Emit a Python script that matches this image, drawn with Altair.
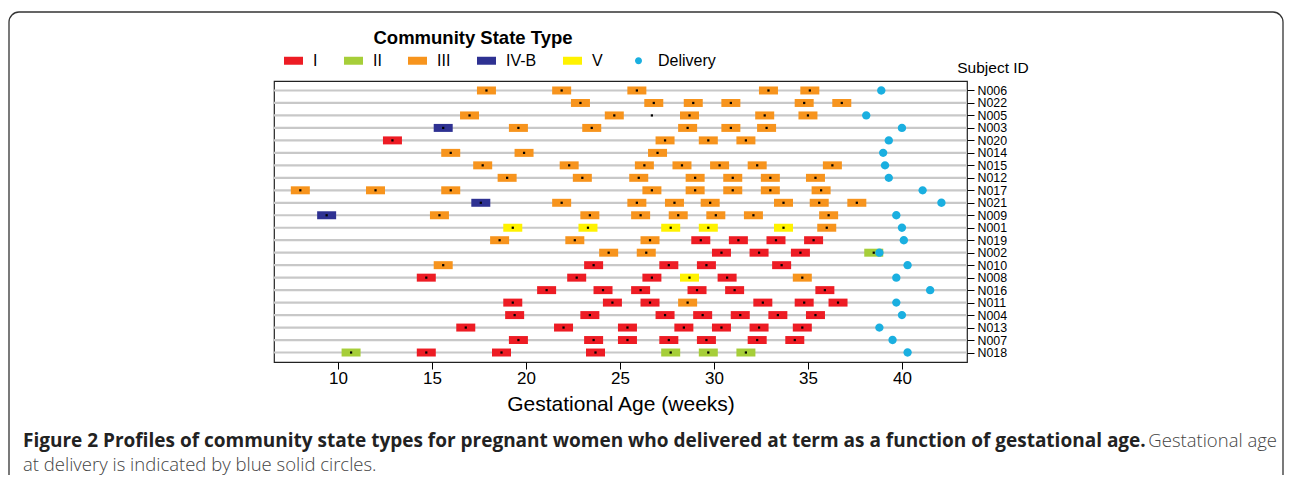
import altair as alt
import pandas as pd

# ---------------- data ----------------
subjects = ["N006", "N022", "N005", "N003", "N020", "N014", "N015", "N012",
            "N017", "N021", "N009", "N001", "N019", "N002", "N010", "N008",
            "N016", "N011", "N004", "N013", "N007", "N018"]

n006_weeks = [17.9, 21.9, 25.9, 32.9, 35.1]
n006_cst = ["III", "III", "III", "III", "III"]
n022_weeks = [22.9, 26.8, 28.9, 30.9, 34.8, 36.8]
n022_cst = ["III", "III", "III", "III", "III", "III"]
n005_weeks = [17.0, 24.7, 26.7, 28.7, 32.7, 35.0]
n005_cst = ["III", "III", None, "III", "III", "III"]
n003_weeks = [15.6, 19.6, 23.5, 28.6, 30.9, 32.8]
n003_cst = ["IV-B", "III", "III", "III", "III", "III"]
n020_weeks = [12.9, 27.4, 29.7, 31.7]
n020_cst = ["I", "III", "III", "III"]
n014_weeks = [16.0, 19.9, 27.0]
n014_cst = ["III", "III", "III"]
n015_weeks = [17.7, 22.3, 26.3, 28.3, 30.3, 32.3, 36.3]
n015_cst = ["III", "III", "III", "III", "III", "III", "III"]
n012_weeks = [19.0, 23.0, 26.0, 29.0, 31.0, 33.0, 35.4]
n012_cst = ["III", "III", "III", "III", "III", "III", "III"]
n017_weeks = [8.0, 12.0, 16.0, 26.7, 29.0, 31.0, 33.0, 35.7]
n017_cst = ["III", "III", "III", "III", "III", "III", "III", "III"]
n021_weeks = [17.6, 21.9, 25.9, 27.9, 29.8, 33.7, 35.6, 37.6]
n021_cst = ["IV-B", "III", "III", "III", "III", "III", "III", "III"]
n009_weeks = [9.4, 15.4, 23.4, 26.1, 28.1, 30.1, 32.1, 36.1]
n009_cst = ["IV-B", "III", "III", "III", "III", "III", "III", "III"]
n001_weeks = [19.3, 23.3, 27.7, 29.7, 33.7, 36.0]
n001_cst = ["V", "V", "V", "V", "V", "III"]
n019_weeks = [18.6, 22.6, 26.6, 29.3, 31.3, 33.3, 35.3]
n019_cst = ["III", "III", "III", "I", "I", "I", "I"]
n002_weeks = [24.4, 26.4, 30.4, 32.4, 34.6, 38.5]
n002_cst = ["III", "III", "I", "I", "I", "II"]
n010_weeks = [15.6, 23.6, 27.6, 29.6, 33.6]
n010_cst = ["III", "I", "I", "I", "I"]
n008_weeks = [14.7, 22.7, 26.7, 28.7, 30.7, 34.7]
n008_cst = ["I", "I", "I", "V", "I", "III"]
n016_weeks = [21.1, 24.1, 26.1, 29.1, 31.1, 35.9]
n016_cst = ["I", "I", "I", "I", "I", "I"]
n011_weeks = [19.3, 24.6, 26.6, 28.6, 32.6, 34.8, 36.6]
n011_cst = ["I", "I", "I", "III", "I", "I", "I"]
n004_weeks = [19.4, 23.4, 27.4, 29.4, 31.4, 33.4, 35.4]
n004_cst = ["I", "I", "I", "I", "I", "I", "I"]
n013_weeks = [16.8, 22.0, 25.4, 28.4, 30.4, 32.4, 34.7]
n013_cst = ["I", "I", "I", "I", "I", "I", "I"]
n007_weeks = [19.6, 23.6, 25.4, 27.6, 29.6, 32.3, 34.3]
n007_cst = ["I", "I", "I", "I", "I", "I", "I"]
n018_weeks = [10.7, 14.7, 18.7, 23.7, 27.7, 29.7, 31.7]
n018_cst = ["II", "I", "I", "I", "II", "II", "II"]

delivery_weeks = [38.9, None, 38.1, 40.0, 39.3, 39.0, 39.1, 39.3,
                  41.1, 42.1, 39.7, 40.0, 40.1, 38.8, 40.3, 39.7,
                  41.5, 39.7, 40.0, 38.8, 39.5, 40.3]

cst_types = ["I", "II", "III", "IV-B", "V", "Delivery"]
cst_colors = ["#ED1C24", "#A6CE39", "#F7941D", "#2E3192", "#FFF200", "#1AAFE0"]

x_ticks = [10, 15, 20, 25, 30, 35, 40]
x_title = "Gestational Age (weeks)"
legend_title = "Community State Type"
y_title = "Subject ID"
caption_bold = ("Figure 2 Profiles of community state types for pregnant women who "
                "delivered at term as a function of gestational age.")
caption_rest1 = "Gestational age"
caption_line2 = "at delivery is indicated by blue solid circles."

# ---------------- tables ----------------
per_subject = {
    "N006": (n006_weeks, n006_cst), "N022": (n022_weeks, n022_cst),
    "N005": (n005_weeks, n005_cst), "N003": (n003_weeks, n003_cst),
    "N020": (n020_weeks, n020_cst), "N014": (n014_weeks, n014_cst),
    "N015": (n015_weeks, n015_cst), "N012": (n012_weeks, n012_cst),
    "N017": (n017_weeks, n017_cst), "N021": (n021_weeks, n021_cst),
    "N009": (n009_weeks, n009_cst), "N001": (n001_weeks, n001_cst),
    "N019": (n019_weeks, n019_cst), "N002": (n002_weeks, n002_cst),
    "N010": (n010_weeks, n010_cst), "N008": (n008_weeks, n008_cst),
    "N016": (n016_weeks, n016_cst), "N011": (n011_weeks, n011_cst),
    "N004": (n004_weeks, n004_cst), "N013": (n013_weeks, n013_cst),
    "N007": (n007_weeks, n007_cst), "N018": (n018_weeks, n018_cst),
}
rows = []
for s in subjects:
    wks, cs = per_subject[s]
    for w, c in zip(wks, cs):
        rows.append({"subject": s, "week": w, "type": c})
samples = pd.DataFrame(rows)
boxes = samples[samples["type"].notna()].copy()
deliv = pd.DataFrame({"subject": subjects, "week": delivery_weeks})
deliv = deliv[deliv["week"].notna()].copy()
deliv["type"] = "Delivery"

RECT = "M-1,-0.42H1V0.42H-1Z"
CIRC = "M0.37,0A0.37,0.37,0,1,1,-0.37,0A0.37,0.37,0,1,1,0.37,0Z"
shape_range = [RECT, RECT, RECT, RECT, RECT, CIRC]

FONT = "Liberation Sans"
CAPFONT = "Open Sans"

x_enc = alt.X("week:Q",
              scale=alt.Scale(domain=[6.6, 43.46], nice=False, zero=False),
              axis=alt.Axis(values=x_ticks, title=x_title, tickSize=7,
                            labelFontSize=17, labelPadding=1, titleFontSize=21,
                            titleFontWeight="normal", titlePadding=7,
                            labelFlush=False))
y_enc = alt.Y("subject:N", sort=subjects,
              scale=alt.Scale(type="point", padding=0.76),
              axis=alt.Axis(orient="right", title=None, tickSize=7,
                            labelFontSize=12.4, labelPadding=3))

leg = alt.Legend(orient="none", legendX=10, legendY=-30, direction="horizontal",
                 title=None, labelFontSize=16, labelFont=FONT, symbolSize=361,
                 symbolStrokeWidth=0, labelOffset=10, columnPadding=26,
                 labelColor="black")
color_enc = alt.Color("type:N", scale=alt.Scale(domain=cst_types, range=cst_colors),
                      legend=leg)
shape_enc = alt.Shape("type:N", scale=alt.Scale(domain=cst_types, range=shape_range),
                      legend=leg)

lines = alt.Chart(pd.DataFrame({"subject": subjects})).mark_rule(
    color="#c8c8c8", strokeWidth=2.2).encode(y=y_enc)

box_layer = alt.Chart(boxes).mark_point(filled=True, opacity=1, size=361,
                                        strokeWidth=0).encode(
    x=x_enc, y=y_enc, color=color_enc, shape=shape_enc)

deliv_layer = alt.Chart(deliv).mark_point(filled=True, opacity=1, size=510,
                                          strokeWidth=0).encode(
    x=x_enc, y=y_enc, color=color_enc, shape=shape_enc)

dots = alt.Chart(samples).mark_square(size=5, color="black", opacity=1).encode(
    x=x_enc, y=y_enc)

def text_layer(txt, x, y, size, weight="normal", align="left", font=FONT, color="black"):
    return alt.Chart(pd.DataFrame({"t": [txt]})).mark_text(
        align=align, baseline="middle", fontSize=size, fontWeight=weight,
        font=font, color=color).encode(x=alt.value(x), y=alt.value(y), text="t:N")

leg_title = text_layer(legend_title, 199, -43, 18.5, "bold", "center")
subj_title = text_layer(y_title, 719, -13, 15.5, "normal", "center")
cap1 = text_layer(caption_bold, -251, 360, 19, "bold", "left", CAPFONT, "#222")
cap1b = text_layer(caption_rest1, 1003, 360, 18.5, 300, "right", CAPFONT, "#444")
cap2 = text_layer(caption_line2, -251, 384, 18.5, 300, "left", CAPFONT, "#444")

frame = alt.Chart(pd.DataFrame({"f": [1]})).mark_rect(
    cornerRadius=10, fillOpacity=0, stroke="#333", strokeWidth=1.3).encode(
    x=alt.value(-265), x2=alt.value(1009), y=alt.value(-69), y2=alt.value(520))

chart = alt.layer(lines, box_layer, deliv_layer, dots, leg_title, subj_title,
                  cap1, cap1b, cap2, frame).properties(
    width=693, height=281,
    autosize=alt.AutoSizeParams(type="none"),
    padding={"left": 266, "top": 73, "right": 317, "bottom": 113},
    background="white",
).configure_view(stroke="#222", strokeWidth=1.2).configure_axis(
    labelFont=FONT, titleFont=FONT, labelColor="black", titleColor="black",
    tickColor="black", domain=False, grid=False)

chart.save("out.html", embed_options={"renderer": "svg", "actions": False})
